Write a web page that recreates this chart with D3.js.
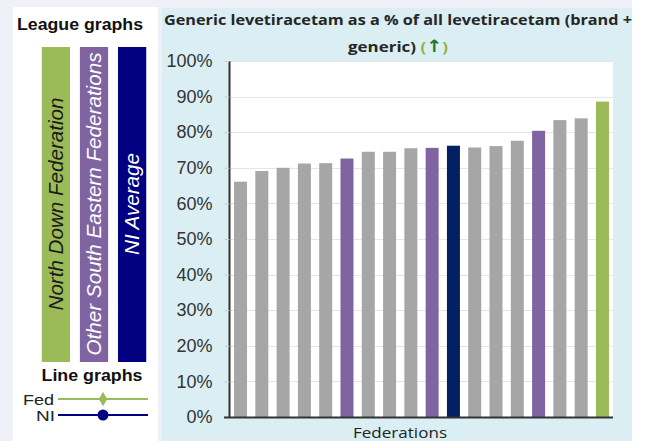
<!DOCTYPE html>
<html>
<head>
<meta charset="utf-8">
<script src="https://cdn.jsdelivr.net/npm/d3@7.9.0/dist/d3.min.js"></script>
<style>
  body { margin: 0; background: #ffffff; }
  svg { display: block; }
</style>
</head>
<body>
<div id="chart"></div>
<script>
// federations, sorted low to high (names not shown on the chart)
const federations = d3.range(1, 19).map(i => 'Fed ' + i);
const values = [66.1, 69.1, 70.0, 71.2, 71.3, 72.6, 74.5, 74.5, 75.5,
                75.6, 76.2, 75.7, 76.1, 77.6, 80.4, 83.4, 83.9, 88.6];
// group of each bar: other, se (other South Eastern), ni (NI average), nd (North Down)
const groups = ['other', 'other', 'other', 'other', 'other', 'se', 'other', 'other', 'other',
                'se', 'ni', 'other', 'other', 'other', 'se', 'other', 'other', 'nd'];
const yTicks = [0, 10, 20, 30, 40, 50, 60, 70, 80, 90, 100];
const legendItems = [
  { key: 'nd', label: 'North Down Federation', text: '#1a1a1a', len: 213 },
  { key: 'se', label: 'Other South Eastern Federations', text: '#ffffff', len: 303 },
  { key: 'ni', label: 'NI Average', text: '#ffffff', len: 102 }
];

const colour = d3.scaleOrdinal()
  .domain(['other', 'se', 'ni', 'nd'])
  .range(['#a6a6a6', '#8064a2', '#002060', '#9bbb59']);
const legendColour = { nd: '#9bbb59', se: '#8064a2', ni: '#000080' };

const width = 647, height = 441;
const svg = d3.select('#chart').append('svg')
  .attr('width', width).attr('height', height);

// backgrounds
svg.append('rect').attr('x', 0).attr('y', 0).attr('width', 632).attr('height', height).attr('fill', '#f0f0f8');
svg.append('rect').attr('x', 13).attr('y', 7).attr('width', 145).attr('height', height).attr('fill', '#ffffff');
svg.append('rect').attr('x', 162).attr('y', 8).attr('width', 470).attr('height', height).attr('fill', '#daeef3');

// ---- left legend panel
svg.append('text')
  .attr('x', 80).attr('y', 30)
  .attr('text-anchor', 'middle')
  .attr('font-family', 'Liberation Sans, Arial, sans-serif')
  .attr('font-weight', 'bold').attr('font-size', 17)
  .attr('textLength', 126).attr('lengthAdjust', 'spacingAndGlyphs')
  .attr('fill', '#111')
  .text('League graphs');

const legX = d3.scaleBand().domain(legendItems.map(d => d.key)).range([41, 147]).paddingInner(0.26).paddingOuter(0.02);
const leg = svg.append('g').selectAll('g').data(legendItems).join('g');
leg.append('rect')
  .attr('x', d => legX(d.key)).attr('y', 47)
  .attr('width', legX.bandwidth()).attr('height', 315)
  .attr('fill', d => legendColour[d.key]);
leg.append('text')
  .attr('transform', d => `translate(${legX(d.key) + legX.bandwidth() / 2 + 7},204) rotate(-90)`)
  .attr('text-anchor', 'middle')
  .attr('font-family', 'Liberation Sans, Arial, sans-serif')
  .attr('font-style', 'italic').attr('font-size', 20)
  .attr('textLength', d => d.len).attr('lengthAdjust', 'spacingAndGlyphs')
  .attr('fill', d => d.text)
  .text(d => d.label);

svg.append('text')
  .attr('x', 92).attr('y', 381)
  .attr('text-anchor', 'middle')
  .attr('font-family', 'Liberation Sans, Arial, sans-serif')
  .attr('font-weight', 'bold').attr('font-size', 17)
  .attr('textLength', 101).attr('lengthAdjust', 'spacingAndGlyphs')
  .attr('fill', '#111')
  .text('Line graphs');

svg.append('text').attr('x', 54).attr('y', 404.5).attr('text-anchor', 'end')
  .attr('font-family', 'Liberation Sans, Arial, sans-serif').attr('font-size', 15)
  .attr('textLength', 31).attr('lengthAdjust', 'spacingAndGlyphs')
  .attr('fill', '#222').text('Fed');
svg.append('line').attr('x1', 58).attr('x2', 148).attr('y1', 399).attr('y2', 399)
  .attr('stroke', '#9bbb59').attr('stroke-width', 2);
svg.append('path').attr('d', d3.symbol(d3.symbolDiamond, 60)())
  .attr('transform', 'translate(103,399)').attr('fill', '#9bbb59');

svg.append('text').attr('x', 55).attr('y', 421).attr('text-anchor', 'end')
  .attr('font-family', 'Liberation Sans, Arial, sans-serif').attr('font-size', 15)
  .attr('textLength', 19).attr('lengthAdjust', 'spacingAndGlyphs')
  .attr('fill', '#222').text('NI');
svg.append('line').attr('x1', 58).attr('x2', 148).attr('y1', 415).attr('y2', 415)
  .attr('stroke', '#000080').attr('stroke-width', 2);
svg.append('circle').attr('cx', 103).attr('cy', 415).attr('r', 5.5).attr('fill', '#000080');

// ---- chart
const x = d3.scaleBand().domain(federations).range([230, 613]).paddingInner(0.39).paddingOuter(0.19);
const y = d3.scaleLinear().domain([0, 100]).range([417, 61]);

svg.append('rect').attr('x', 230).attr('y', y(100)).attr('width', 383).attr('height', y(0) - y(100)).attr('fill', '#ffffff');

// gridlines
svg.append('g').selectAll('line').data(yTicks.slice(1)).join('line')
  .attr('x1', 230).attr('x2', 613)
  .attr('y1', d => Math.round(y(d)) + 0.5).attr('y2', d => Math.round(y(d)) + 0.5)
  .attr('stroke', '#e6e6e6');

// bars
svg.append('g').selectAll('rect').data(values).join('rect')
  .attr('x', (d, i) => x(federations[i]))
  .attr('y', d => y(d))
  .attr('width', x.bandwidth())
  .attr('height', d => y(0) - y(d))
  .attr('fill', (d, i) => colour(groups[i]));

// y axis
const yAxis = svg.append('g')
  .attr('transform', 'translate(229.5,0)')
  .call(d3.axisLeft(y).tickValues(yTicks).tickSize(5).tickPadding(12).tickFormat(d => d + '%'));
yAxis.select('.domain').attr('stroke', '#333').attr('stroke-width', 2).attr('d', `M0,${y(100)}V${y(0)}`);
yAxis.selectAll('.tick line').attr('stroke', '#d0d0d0');
yAxis.selectAll('.tick text')
  .attr('font-family', 'Liberation Sans, Arial, sans-serif')
  .attr('font-size', 18).attr('fill', '#333');

// x axis
svg.append('line').attr('x1', 224).attr('x2', 613).attr('y1', 417.5).attr('y2', 417.5)
  .attr('stroke', '#333').attr('stroke-width', 2);
svg.append('text')
  .attr('x', 400).attr('y', 438)
  .attr('text-anchor', 'middle')
  .attr('font-family', 'Open Sans, sans-serif').attr('font-size', 15)
  .attr('textLength', 94).attr('lengthAdjust', 'spacingAndGlyphs')
  .attr('fill', '#222')
  .text('Federations');

// title
svg.append('clipPath').attr('id', 'tclip').append('rect')
  .attr('x', 162).attr('y', 0).attr('width', 470).attr('height', 70);
const title = svg.append('g').attr('clip-path', 'url(#tclip)');
title.append('text')
  .attr('x', 398).attr('y', 25)
  .attr('text-anchor', 'middle')
  .attr('font-family', 'Open Sans, sans-serif').attr('font-weight', 'bold').attr('font-size', 14)
  .attr('textLength', 468).attr('lengthAdjust', 'spacingAndGlyphs')
  .attr('fill', '#262626')
  .text('Generic levetiracetam as a % of all levetiracetam (brand +');
const t2 = title.append('text')
  .attr('x', 398).attr('y', 52)
  .attr('text-anchor', 'middle')
  .attr('font-family', 'Open Sans, sans-serif').attr('font-weight', 'bold').attr('font-size', 15)
  .attr('textLength', 100).attr('lengthAdjust', 'spacingAndGlyphs');
t2.append('tspan').attr('fill', '#262626').text('generic) ');
t2.append('tspan').attr('fill', '#8db53c').text('(');
t2.append('tspan').attr('fill', '#1a7a2e').attr('font-family', 'DejaVu Sans').attr('font-size', 17).text('↑');
t2.append('tspan').attr('fill', '#8db53c').text(')');
</script>
</body>
</html>
